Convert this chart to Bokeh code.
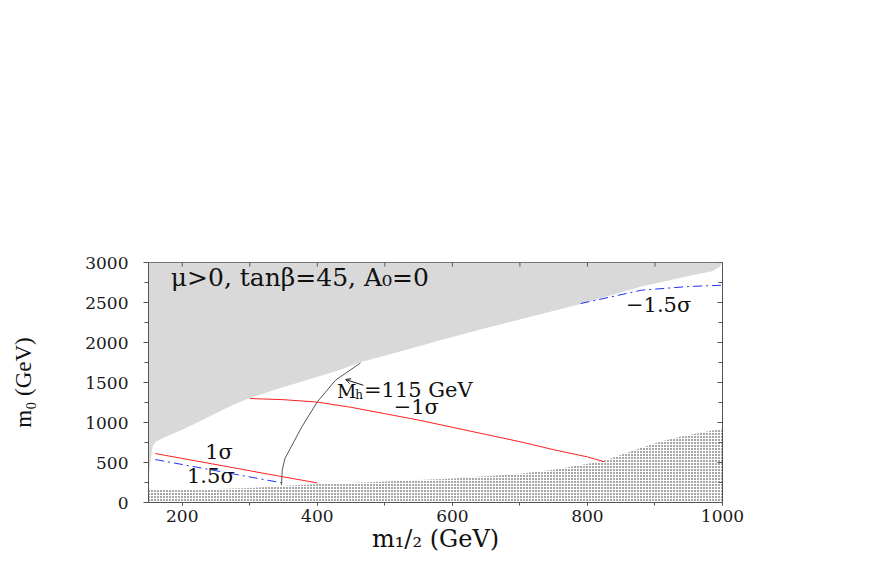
import math
from bokeh.plotting import figure
from bokeh.models import (LinearAxis, FixedTicker, Range1d, Label, Arrow, OpenHead)
from bokeh.embed import file_html
from bokeh.resources import INLINE

# ---- data ----
# excluded (gray) region: lower boundary
gray_x = [150, 152, 156, 160, 175, 204, 244, 274, 298, 343, 392, 432, 466, 520, 582, 650, 720, 790, 880, 950, 985, 995, 1000]
gray_y = [240, 450, 700, 757, 820, 925, 1091, 1216, 1300, 1425, 1550, 1654, 1758, 1880, 2029, 2180, 2330, 2480, 2700, 2830, 2890, 2940, 3000]

# dotted region (upper boundary)
dot_x = [150, 200, 250, 300, 350, 400, 450, 500, 600, 700, 750, 800, 825, 900, 930, 1000]
dot_y = [160, 165, 170, 180, 205, 232, 245, 262, 300, 360, 410, 485, 525, 740, 810, 925]

# -1 sigma (red)
m1_x = [300, 350, 400, 450, 500, 550, 600, 650, 700, 750, 800, 825]
m1_y = [1300, 1285, 1255, 1190, 1110, 1030, 940, 850, 760, 660, 570, 510]

# +1 sigma (red)
p1_x = [160, 220, 280, 340, 400]
p1_y = [612, 520, 428, 335, 245]

# 1.5 sigma (blue dash-dot)
p15_x = [160, 254, 348]
p15_y = [537, 391, 245]

# -1.5 sigma (blue dash-dot)
m15_x = [790, 880, 950, 1000]
m15_y = [2487, 2654, 2700, 2716]

# M_h = 115 GeV contour (black)
mh_x = [347, 348, 352, 360, 377, 400, 427, 464]
mh_y = [216, 404, 550, 675, 945, 1258, 1529, 1745]

x_ticks = [200, 400, 600, 800, 1000]
x_minor = [200, 300, 400, 500, 600, 700, 800, 900, 1000]
y_ticks = [0, 500, 1000, 1500, 2000, 2500, 3000]
y_minor = [250, 750, 1250, 1750, 2250, 2750]

SERIF = "DejaVu Serif"
X0, X1, Y0, Y1 = 150, 1000, 0, 3000

p = figure(width=860, height=555, output_backend="svg", toolbar_location=None,
           x_range=Range1d(X0, X1), y_range=Range1d(Y0, Y1),
           x_axis_location=None, y_axis_location=None,
           min_border_left=148, min_border_right=138, min_border_top=262,
           min_border_bottom=52)
p.outline_line_color = "#555555"
p.grid.visible = False
p.background_fill_color = "white"
p.border_fill_color = "white"

# gray excluded region
poly_x = [X0] + gray_x + [X1]
poly_y = [Y1] + gray_y + [Y1]
p.patch(poly_x, poly_y, fill_color="#d9d9d9", line_color=None)

# dotted region
hx = dot_x + [X1, X0]
hy = dot_y + [Y0, Y0]
p.patch(hx, hy, fill_color=None, line_color=None, hatch_pattern="dot",
        hatch_color="#222222", hatch_scale=3, hatch_weight=1, hatch_alpha=1.0)

# lines
p.line(m1_x, m1_y, line_color="#ff2020", line_width=1)
p.line(p1_x, p1_y, line_color="#ff2020", line_width=1)
p.line(p15_x, p15_y, line_color="#2030ff", line_width=1, line_dash="9 4 2 4")
p.line(m15_x, m15_y, line_color="#2030ff", line_width=1, line_dash="9 4 2 4")
p.line(mh_x, mh_y, line_color="#555555", line_width=1)

# inward ticks on the right and top frame edges
p.scatter([X1] * len(y_ticks), y_ticks, marker="dash", size=10, line_color="#555555", line_width=1)
p.scatter([X1] * len(y_minor), y_minor, marker="dash", size=8, line_color="#555555", line_width=1)
p.scatter(x_minor, [Y1] * len(x_minor), marker="dash", size=8, angle=math.pi / 2,
          line_color="#555555", line_width=1)

# axes
def style(ax):
    ax.axis_line_color = "#555555"
    ax.major_tick_line_color = "#555555"
    ax.minor_tick_line_color = "#555555"
    ax.major_label_text_font = SERIF
    ax.major_label_text_font_size = "17px"
    ax.major_label_text_color = "#1a1a1a"
    ax.axis_label_text_font_style = "normal"
    ax.axis_label_text_color = "#111111"

left = LinearAxis(ticker=FixedTicker(ticks=y_ticks, minor_ticks=y_minor),
                  axis_label="m₀ (GeV)")
style(left)
left.axis_label_text_font = "Liberation Serif"
left.axis_label_text_font_size = "23px"
left.axis_label_standoff = 46
left.major_tick_out = 5; left.major_tick_in = 0
left.minor_tick_out = 4; left.minor_tick_in = 0
left.major_label_standoff = 15
p.add_layout(left, "left")

bottom = LinearAxis(ticker=FixedTicker(ticks=x_ticks, minor_ticks=x_minor),
                    axis_label="m₁/₂ (GeV)")
style(bottom)
bottom.axis_label_text_font = SERIF
bottom.axis_label_text_font_size = "24px"
bottom.axis_label_standoff = 0
bottom.major_tick_out = 3; bottom.major_tick_in = 0
bottom.minor_tick_out = 3; bottom.minor_tick_in = 0
bottom.major_label_standoff = 4
p.add_layout(bottom, "below")

def lab(x, y, text, size, font=SERIF, align="left"):
    p.add_layout(Label(x=x, y=y, text=text, text_font=font, text_font_size=size,
                       text_color="#111111", text_align=align,
                       text_baseline="alphabetic"))

# annotations
lab(183, 2810, "μ>0, tanβ=45, A₀=0", "25px")
lab(429, 1395, "M", "19px")
lab(456, 1345, "h", "12px")
lab(469, 1407, "=115 GeV", "21px")
lab(513, 1199, "−1σ", "21px")
lab(234, 637, "1σ", "21px")
lab(207, 332, "1.5σ", "21px")
lab(857, 2469, "−1.5σ", "21px")

p.add_layout(Arrow(end=OpenHead(size=5, line_color="#111111", line_width=1),
                   x_start=468, y_start=1466, x_end=442, y_end=1537,
                   line_color="#111111", line_width=1))

open("out.html", "w").write(file_html(p, INLINE))
